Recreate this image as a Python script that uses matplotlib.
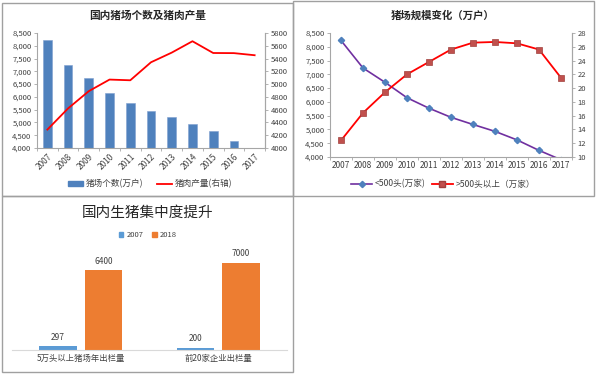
import numpy as np
import matplotlib
matplotlib.use("Agg")
import matplotlib.pyplot as plt
from matplotlib.lines import Line2D
from matplotlib.patches import Patch, Rectangle

plt.rcParams['font.family'] = ['Noto Sans CJK SC', 'DejaVu Sans']

# ---- données ----
years = ['2007', '2008', '2009', '2010', '2011', '2012', '2013', '2014', '2015', '2016', '2017']
farms = [8230, 7230, 6720, 6170, 5780, 5460, 5210, 4940, 4660, 4270, 4010]
pork = [4288, 4620, 4890, 5071, 5060, 5342, 5493, 5671, 5487, 5485, 5452]

small_farms = [8230, 7230, 6710, 6150, 5770, 5440, 5180, 4930, 4620, 4240, 3900]
large_farms = [12.4, 16.4, 19.4, 22.0, 23.8, 25.6, 26.6, 26.7, 26.5, 25.6, 21.5]

conc_cats = ['5万头以上猪场年出栏量', '前20家企业出栏量']
conc_2007 = [297, 200]
conc_2018 = [6400, 7000]

W, H = 597, 375
fig = plt.figure(figsize=(W / 100, H / 100), dpi=100)


def rect(l, t, r, b):
    return [l / W, 1 - b / H, (r - l) / W, (b - t) / H]


AX = '#A6A6A6'
TXT = '#404040'

# cadres des panneaux
for (l, t, r, b) in [(2, 3, 293, 196), (293, 1, 594, 196), (2, 196, 293, 372)]:
    fig.patches.append(Rectangle((l / W, 1 - b / H), (r - l) / W, (b - t) / H,
                                 transform=fig.transFigure, fill=False,
                                 edgecolor='#A0A0A0', linewidth=1.0))


def style_axes(ax):
    for s in ['top', 'right', 'left', 'bottom']:
        ax.spines[s].set_visible(False)
    ax.spines['bottom'].set_visible(True)
    ax.spines['bottom'].set_color(AX)
    ax.spines['left'].set_visible(True)
    ax.spines['left'].set_color(AX)
    ax.tick_params(colors=TXT, labelsize=5.5, length=2.5, width=0.6, color=AX, pad=1.5)


# ---- panneau 1 ----
x = np.arange(len(years))
ax1 = fig.add_axes(rect(37, 33, 265, 148))
ax1.bar(x, farms, width=0.42, color='#4F81BD', edgecolor='#7F9FD0', linewidth=0.4)
ax1.set_ylim(4000, 8500)
ax1.set_yticks(range(4000, 8501, 500))
ax1.set_yticklabels([f'{v:,}' for v in range(4000, 8501, 500)])
ax1.set_xlim(-0.5, len(years) - 0.5)
style_axes(ax1)
ax1.spines['right'].set_visible(True)
ax1.spines['right'].set_color(AX)
ax1.set_xticks(x)
ax1.set_xticklabels(years, rotation=45, ha='right', rotation_mode='anchor')
ax1.tick_params(axis='x', length=0, pad=3, labelsize=6)
ax1.set_xticks(np.arange(-0.5, len(years), 1), minor=True)
ax1.tick_params(axis='x', which='minor', length=2.5, color=AX)

ax1b = ax1.twinx()
ax1b.plot(x, pork, color='#FF0000', linewidth=1.3)
ax1b.set_ylim(4000, 5800)
ax1b.set_yticks(range(4000, 5801, 200))
for s in ['top', 'left', 'bottom']:
    ax1b.spines[s].set_visible(False)
ax1b.spines['right'].set_color(AX)
ax1b.tick_params(colors=TXT, labelsize=5.5, length=2.5, width=0.6, color=AX, pad=1.5)

fig.text(148 / W, 1 - 16 / H, '国内猪场个数及猪肉产量', ha='center', va='center',
         fontsize=7.7, fontweight='bold', color='#262626')
fig.legend(handles=[Patch(color='#4F81BD', label='猪场个数(万户)'),
                    Line2D([], [], color='#FF0000', linewidth=1.3, label='猪肉产量(右轴)')],
           loc='center', bbox_to_anchor=(150 / W, 1 - 184 / H), ncol=2, frameon=False,
           fontsize=6.2, handlelength=1.8, handleheight=0.6, handletextpad=0.3,
           columnspacing=1.6, labelcolor=TXT, borderaxespad=0)

# ---- panneau 2 ----
ax2 = fig.add_axes(rect(330, 33, 572, 157))
ax2.plot(x, small_farms, color='#7030A0', linewidth=1.2, marker='D', markersize=3.2,
         markerfacecolor='#4F81BD', markeredgecolor='#4F81BD', clip_on=True)
ax2.set_ylim(4000, 8500)
ax2.set_yticks(range(4000, 8501, 500))
ax2.set_yticklabels([f'{v:,}' for v in range(4000, 8501, 500)])
ax2.set_xlim(-0.5, len(years) - 0.5)
style_axes(ax2)
ax2.spines['right'].set_visible(True)
ax2.spines['right'].set_color(AX)
ax2.set_xticks(x)
ax2.set_xticklabels(years)
ax2.tick_params(axis='x', length=0, pad=3, labelsize=6)
ax2.set_xticks(np.arange(-0.5, len(years), 1), minor=True)
ax2.tick_params(axis='x', which='minor', length=2.5, color=AX)

ax2b = ax2.twinx()
ax2b.plot(x, large_farms, color='#FF0000', linewidth=1.3, marker='s', markersize=4.5,
          markerfacecolor='#C0504D', markeredgecolor='#A0403D', markeredgewidth=0.5)
ax2b.set_ylim(10, 28)
ax2b.set_yticks(range(10, 29, 2))
for s in ['top', 'left', 'bottom']:
    ax2b.spines[s].set_visible(False)
ax2b.spines['right'].set_color(AX)
ax2b.tick_params(colors=TXT, labelsize=5.5, length=2.5, width=0.6, color=AX, pad=1.5)

fig.text(443 / W, 1 - 16 / H, '猪场规模变化（万户）', ha='center', va='center',
         fontsize=7.5, fontweight='bold', color='#262626')
fig.legend(handles=[Line2D([], [], color='#7030A0', linewidth=1.2, marker='D', markersize=3.2,
                           markerfacecolor='#4F81BD', markeredgecolor='#4F81BD', label='<500头(万家)'),
                    Line2D([], [], color='#FF0000', linewidth=1.3, marker='s', markersize=4.5,
                           markerfacecolor='#C0504D', markeredgecolor='#A0403D', label='>500头以上（万家）')],
           loc='center', bbox_to_anchor=(443 / W, 1 - 184 / H), ncol=2, frameon=False,
           fontsize=6.2, handlelength=2.4, handletextpad=0.3, columnspacing=0.8,
           labelcolor=TXT, borderaxespad=0)

# ---- panneau 3 ----
ax3 = fig.add_axes(rect(12, 250, 287, 350))
xc = np.arange(len(conc_cats))
bw = 0.27
b1 = ax3.bar(xc - 0.165, conc_2007, width=bw, color='#5B9BD5', label='2007')
b2 = ax3.bar(xc + 0.165, conc_2018, width=bw, color='#ED7D31', label='2018')
ax3.bar_label(b1, padding=3, fontsize=6, color=TXT)
ax3.bar_label(b2, padding=3, fontsize=6, color=TXT)
ax3.set_ylim(0, 8000)
ax3.set_xlim(-0.5, 1.5)
for s in ['top', 'right', 'left']:
    ax3.spines[s].set_visible(False)
ax3.spines['bottom'].set_color('#D9D9D9')
ax3.set_yticks([])
ax3.set_xticks(xc)
ax3.set_xticklabels(conc_cats)
ax3.tick_params(axis='x', length=0, labelsize=6, colors=TXT, pad=3)

fig.text(148 / W, 1 - 213 / H, '国内生猪集中度提升', ha='center', va='center',
         fontsize=10.5, color='#262626')
fig.legend(handles=[Patch(color='#5B9BD5', label='2007'), Patch(color='#ED7D31', label='2018')],
           loc='center', bbox_to_anchor=(148 / W, 1 - 235 / H), ncol=2, frameon=False,
           fontsize=5.5, handlelength=0.6, handleheight=0.6, handletextpad=0.4,
           columnspacing=1.2, labelcolor=TXT, borderaxespad=0)

fig.savefig('out.png', dpi=100, facecolor='white')
